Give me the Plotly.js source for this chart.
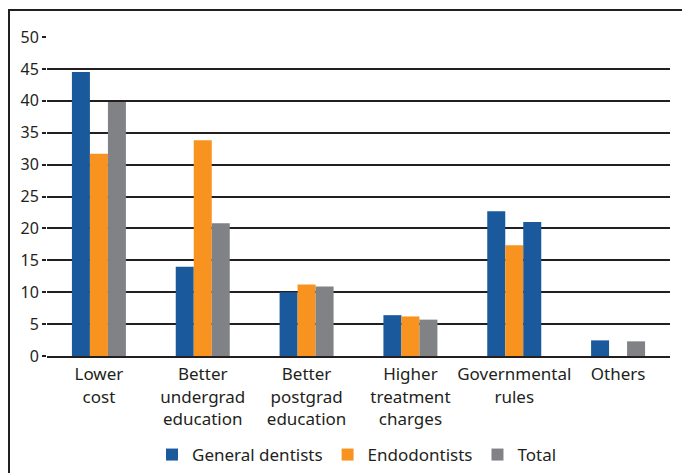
<!DOCTYPE html>
<html>
<head>
<meta charset="utf-8">
<script src="https://cdn.plot.ly/plotly-3.0.1.min.js"></script>
<style>html,body{margin:0;padding:0;background:#fff;}#chart{width:682px;height:473px;}</style>
</head>
<body>
<div id="chart"></div>
<script>
const categories = ["Lower<br>cost", "Better<br>undergrad<br>education", "Better<br>postgrad<br>education", "Higher<br>treatment<br>charges", "Governmental<br>rules", "Others"];
const generalDentists = [44.5, 14.0, 10.0, 6.4, 22.7, 2.45];
const endodontists = [31.7, 33.8, 11.2, 6.2, 17.35, null];
const total = [39.8, 20.8, 10.9, 5.7, 21.0, 2.3];
const totalColors = ["#808285", "#808285", "#808285", "#808285", "#1a5a9c", "#808285"];

const W = 682, H = 473;
const m = {l: 47, r: 12, t: 37, b: 117};
const pw = W - m.l - m.r, ph = H - m.t - m.b;
const px = x => (x - m.l) / pw;
const py = y => (H - m.b - y) / ph;

const ink = "#231f20";

const traces = [
  {type: "bar", name: "General dentists", x: categories, y: generalDentists, marker: {color: "#1a5a9c"}},
  {type: "bar", name: "Endodontists", x: categories, y: endodontists, marker: {color: "#f7931e"}},
  {type: "bar", name: "Total", x: categories, y: total, marker: {color: totalColors}}
];

const layout = {
  width: W, height: H,
  margin: m,
  paper_bgcolor: "#fff", plot_bgcolor: "#fff",
  font: {family: "Noto Sans, sans-serif", size: 16, color: ink},
  barmode: "group",
  bargap: 0.48,
  bargroupgap: 0,
  showlegend: true,
  legend: {orientation: "h", xref: "container", yref: "container", x: 357 / W, xanchor: "center", y: 1 - 455 / H, yanchor: "middle", font: {family: "Noto Sans, sans-serif", size: 17, color: ink}, itemwidth: 30, tracegroupgap: 0},
  xaxis: {
    type: "category", showgrid: false, showline: true, linecolor: ink, linewidth: 2,
    ticks: "", tickfont: {family: "Noto Sans, sans-serif", size: 17, color: ink},
    ticklabelstandoff: 2, automargin: false,
    fixedrange: true
  },
  yaxis: {
    range: [0, 50], dtick: 5, showgrid: true, gridcolor: ink, gridwidth: 2,
    ticks: "outside", ticklen: 4, tickcolor: ink, tickwidth: 2,
    zeroline: false, showline: false, automargin: false,
    tickfont: {family: "Noto Sans, sans-serif", size: 16, color: ink},
    fixedrange: true
  },
  shapes: [{
    type: "rect", xref: "paper", yref: "paper",
    x0: px(9), x1: px(720), y0: py(520), y1: py(10),
    line: {color: ink, width: 2}, fillcolor: "rgba(0,0,0,0)", layer: "below"
  }]
};

Plotly.newPlot("chart", traces, layout, {displayModeBar: false, staticPlot: true});
</script>
</body>
</html>
